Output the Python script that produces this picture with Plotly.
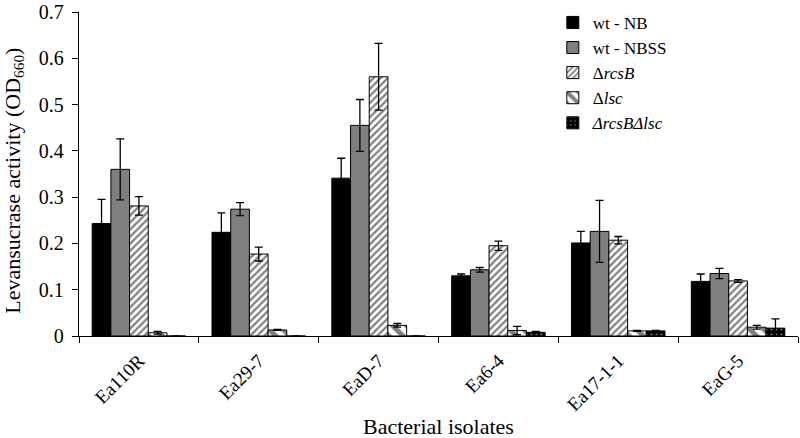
import plotly.graph_objects as go

categories = ["Ea110R", "Ea29-7", "EaD-7", "Ea6-4", "Ea17-1-1", "EaG-5"]
series_names = ["wt - NB", "wt - NBSS", "Δ<i>rcsB</i>", "Δ<i>lsc</i>", "<i>ΔrcsBΔlsc</i>"]

wt_nb = [0.243, 0.224, 0.341, 0.130, 0.201, 0.118]
wt_nb_err = [0.052, 0.042, 0.043, 0.004, 0.025, 0.016]
wt_nbss = [0.360, 0.274, 0.455, 0.143, 0.226, 0.135]
wt_nbss_err = [0.066, 0.014, 0.056, 0.005, 0.067, 0.011]
d_rcsb = [0.281, 0.177, 0.560, 0.195, 0.207, 0.119]
d_rcsb_err = [0.020, 0.015, 0.072, 0.010, 0.008, 0.003]
d_lsc = [0.007, 0.013, 0.023, 0.012, 0.011, 0.019]
d_lsc_err = [0.003, 0.001, 0.004, 0.009, 0.001, 0.004]
d_both = [0.0, 0.0, 0.0, 0.008, 0.011, 0.017]
d_both_err = [0.0, 0.0, 0.0, 0.002, 0.001, 0.020]

y_title = "Levansucrase activity (OD<sub>660</sub>)"
x_title = "Bacterial isolates"

values = [wt_nb, wt_nbss, d_rcsb, d_lsc, d_both]
errors = [wt_nb_err, wt_nbss_err, d_rcsb_err, d_lsc_err, d_both_err]

styles = [
    dict(color="#000000"),
    dict(color="#7f7f7f"),
    dict(color="#ffffff", pattern=dict(shape="/", fgcolor="#000000", bgcolor="#ffffff", size=5, solidity=0.45)),
    dict(color="#ffffff", pattern=dict(shape="\\", fgcolor="#000000", bgcolor="#ffffff", size=10, solidity=0.5)),
    dict(color="#000000", pattern=dict(shape=".", fgcolor="#ffffff", bgcolor="#000000", size=5, solidity=0.15)),
]

fig = go.Figure()
for name, vals, errs, st in zip(series_names, values, errors, styles):
    fig.add_trace(go.Bar(
        x=categories, y=vals, name=name,
        marker=dict(line=dict(color="#000000", width=1), **st),
        error_y=dict(type="data", array=errs, visible=True, color="#000000", thickness=1.3, width=4),
    ))

font_family = "Liberation Serif, Times New Roman, serif"
fig.update_layout(
    width=800, height=438,
    barmode="group", bargap=0.22, bargroupgap=0,
    plot_bgcolor="white", paper_bgcolor="white",
    margin=dict(l=79, r=2, t=12, b=102, autoexpand=False),
    font=dict(family=font_family, size=19, color="#000000"),
    legend=dict(x=0.659, y=1.022, xanchor="left", yanchor="top",
                font=dict(family=font_family, size=17),
                bgcolor="rgba(0,0,0,0)", tracegroupgap=0),
    xaxis=dict(
        showline=True, linecolor="#000000", linewidth=1.3,
        ticks="outside", tickson="boundaries", ticklen=6, tickcolor="#000000",
        tickangle=-45, tickfont=dict(size=19), automargin=False,
        ticklabelstandoff=5,
    ),
    yaxis=dict(
        range=[0, 0.7], dtick=0.1, showgrid=False, zeroline=False,
        showline=True, linecolor="#000000", linewidth=1.3, automargin=False,
        ticks="outside", ticklen=6, tickcolor="#000000", tickfont=dict(size=20),
        ticklabeloverflow="allow", ticklabelstandoff=4,
    ),
    annotations=[
        dict(
            text=y_title, textangle=-90, showarrow=False,
            xref="paper", yref="paper", x=-0.09, y=0.48,
            xanchor="center", yanchor="middle", borderpad=0,
            font=dict(family=font_family, size=22, color="#000000"),
        ),
        dict(
            text=x_title, showarrow=False,
            xref="paper", yref="paper", x=0.5, y=-0.28,
            xanchor="center", yanchor="middle", borderpad=0,
            font=dict(family=font_family, size=22, color="#000000"),
        ),
    ],
)

fig.write_html("out.html", config={"displayModeBar": False},
               post_script="document.body.style.margin='0';")
